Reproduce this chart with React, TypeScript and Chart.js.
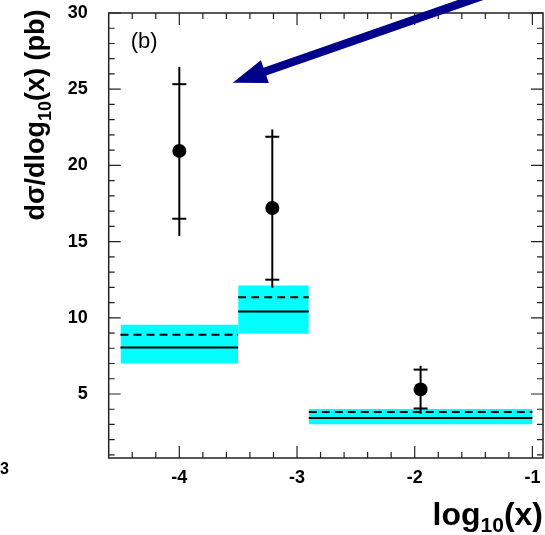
import React, { useEffect, useRef } from "react";
import { Chart, registerables } from "chart.js";

Chart.register(...registerables);

// ---- data ----
const binEdges = [-4.5, -3.5, -2.9, -1.0];
const bandLow = [7.0, 8.95, 3.01];
const bandHigh = [9.55, 12.12, 4.02];
const predSolid = [8.05, 10.42, 3.43];
const predDashed = [8.89, 11.35, 3.82];

const dataX = [-4.0, -3.21, -1.95];
const dataY = [20.95, 17.2, 5.3];
const statLow = [16.5, 12.5, 4.05];
const statHigh = [25.33, 21.88, 6.6];
const totLow = [15.37, 11.95, 3.71];
const totHigh = [26.47, 22.36, 6.85];

const xTickLabels = [-4, -3, -2, -1];
const yTickLabels = [5, 10, 15, 20, 25, 30];
const X_MIN = -4.6;
const X_MAX = -0.91;
const Y_MIN = 0.8;
const Y_MAX = 30;

const arrowTip = { x: -3.546, y: 25.42 };
const arrowTail = { x: -0.555, y: 33.46 };

const CYAN = "#00ffff";
const NAVY = "#00008b";
const FONT = '"Liberation Sans", Arial, Helvetica, sans-serif';

function segments(values: number[]) {
  const pts: { x: number; y: number | null }[] = [];
  values.forEach((v, i) => {
    pts.push({ x: binEdges[i], y: v });
    pts.push({ x: binEdges[i + 1], y: v });
    pts.push({ x: binEdges[i + 1], y: null });
  });
  return pts;
}

const errorBarPlugin = {
  id: "errorBars",
  afterDatasetsDraw(chart: any) {
    const { ctx } = chart;
    const xs = chart.scales.x;
    const ys = chart.scales.y;
    ctx.save();
    ctx.strokeStyle = "#000";
    ctx.lineWidth = 2;
    dataX.forEach((xv, i) => {
      const px = xs.getPixelForValue(xv);
      ctx.beginPath();
      ctx.moveTo(px, ys.getPixelForValue(totLow[i]));
      ctx.lineTo(px, ys.getPixelForValue(totHigh[i]));
      ctx.stroke();
      [statLow[i], statHigh[i]].forEach((v) => {
        const py = ys.getPixelForValue(v);
        ctx.beginPath();
        ctx.moveTo(px - 7, py);
        ctx.lineTo(px + 7, py);
        ctx.stroke();
      });
    });
    ctx.restore();
  },
};

const decorPlugin = {
  id: "decor",
  afterDraw(chart: any) {
    const { ctx, chartArea } = chart;
    const xs = chart.scales.x;
    const ys = chart.scales.y;
    const { left, right, top, bottom } = chartArea;
    ctx.save();

    // frame
    ctx.strokeStyle = "#222";
    ctx.lineWidth = 1.5;
    ctx.strokeRect(left, top, right - left, bottom - top);

    // y ticks (both sides, inward)
    ctx.lineWidth = 1.2;
    for (let v = Math.ceil(Y_MIN); v <= Y_MAX; v += 1) {
      const py = ys.getPixelForValue(v);
      const len = v % 5 === 0 ? 12 : 6;
      ctx.beginPath();
      ctx.moveTo(left, py);
      ctx.lineTo(left + len, py);
      ctx.moveTo(right, py);
      ctx.lineTo(right - len, py);
      ctx.stroke();
    }
    // x ticks (top and bottom, inward)
    for (let k = -44; k <= -5; k += 2) {
      const v = k / 10;
      if (v < X_MIN || v > X_MAX) continue;
      const px = xs.getPixelForValue(v);
      const len = k % 10 === 0 ? 12 : 6;
      ctx.beginPath();
      ctx.moveTo(px, bottom);
      ctx.lineTo(px, bottom - len);
      ctx.moveTo(px, top);
      ctx.lineTo(px, top + len);
      ctx.stroke();
    }

    // arrow
    const tx = xs.getPixelForValue(arrowTip.x);
    const ty = ys.getPixelForValue(arrowTip.y);
    const sx = xs.getPixelForValue(arrowTail.x);
    const sy = ys.getPixelForValue(arrowTail.y);
    const dx = sx - tx;
    const dy = sy - ty;
    const L = Math.hypot(dx, dy);
    const ux = dx / L;
    const uy = dy / L;
    const nx = -uy;
    const ny = ux;
    const headLen = 34;
    const headHalf = 12;
    const shaftHalf = 4.2;
    const bx = tx + ux * headLen;
    const by = ty + uy * headLen;
    ctx.fillStyle = NAVY;
    ctx.beginPath();
    ctx.moveTo(tx, ty);
    ctx.lineTo(bx + nx * headHalf, by + ny * headHalf);
    ctx.lineTo(bx + nx * shaftHalf, by + ny * shaftHalf);
    ctx.lineTo(sx + nx * shaftHalf, sy + ny * shaftHalf);
    ctx.lineTo(sx - nx * shaftHalf, sy - ny * shaftHalf);
    ctx.lineTo(bx - nx * shaftHalf, by - ny * shaftHalf);
    ctx.lineTo(bx - nx * headHalf, by - ny * headHalf);
    ctx.closePath();
    ctx.fill();

    // panel label
    ctx.fillStyle = "#000";
    ctx.font = `22px ${FONT}`;
    ctx.textAlign = "left";
    ctx.textBaseline = "alphabetic";
    ctx.fillText("(b)", left + 22, top + 35);

    // y title (rotated, with subscript)
    const yParts: [string, number, number][] = [
      ["d\u03c3/dlog", 27, 0],
      ["10", 18, 7],
      ["(x) (pb)", 27, 0],
    ];
    const measure = (parts: [string, number, number][]) =>
      parts.reduce((w, [t, s]) => {
        ctx.font = `bold ${s}px ${FONT}`;
        return w + ctx.measureText(t).width;
      }, 0);
    ctx.save();
    ctx.translate(44, 115);
    ctx.rotate(-Math.PI / 2);
    let cx = -measure(yParts) / 2;
    yParts.forEach(([t, s, off]) => {
      ctx.font = `bold ${s}px ${FONT}`;
      ctx.fillText(t, cx, off);
      cx += ctx.measureText(t).width;
    });
    ctx.restore();

    // x title
    const xParts: [string, number, number][] = [
      ["log", 32, 0],
      ["10", 21, 7],
      ["(x)", 32, 0],
    ];
    let xx = right - measure(xParts);
    xParts.forEach(([t, s, off]) => {
      ctx.font = `bold ${s}px ${FONT}`;
      ctx.fillText(t, xx, 525 + off);
      xx += ctx.measureText(t).width;
    });

    // fragments of neighbouring panels
    ctx.font = `bold 16px ${FONT}`;
    ctx.fillText("3", 0, 474);
    ctx.fillText("30", 65, 547);

    ctx.restore();
  },
};

function zeroPadding(s: any) {
  s.paddingTop = 0;
  s.paddingBottom = 0;
  s.paddingLeft = 0;
  s.paddingRight = 0;
}

export default function App() {
  const ref = useRef<HTMLCanvasElement | null>(null);

  useEffect(() => {
    document.body.style.margin = "0";
    document.body.style.overflow = "hidden";
    document.documentElement.style.overflow = "hidden";
    const canvas = ref.current;
    if (!canvas) return;

    const datasets: any[] = [];
    binEdges.slice(0, -1).forEach((lo, i) => {
      const hi = binEdges[i + 1];
      datasets.push({
        data: [
          { x: lo, y: bandHigh[i] },
          { x: hi, y: bandHigh[i] },
        ],
        fill: "+1",
        backgroundColor: CYAN,
        borderWidth: 0,
        pointRadius: 0,
        order: 3,
      });
      datasets.push({
        data: [
          { x: lo, y: bandLow[i] },
          { x: hi, y: bandLow[i] },
        ],
        fill: false,
        borderWidth: 0,
        pointRadius: 0,
        order: 3,
      });
    });
    datasets.push({
      data: segments(predSolid),
      borderColor: "#000",
      borderWidth: 2,
      pointRadius: 0,
      fill: false,
      spanGaps: false,
      order: 2,
    });
    datasets.push({
      data: segments(predDashed),
      borderColor: "#000",
      borderWidth: 2,
      borderDash: [8, 5],
      pointRadius: 0,
      fill: false,
      spanGaps: false,
      order: 2,
    });
    datasets.push({
      data: dataX.map((x, i) => ({ x, y: dataY[i] })),
      showLine: false,
      pointRadius: 7,
      pointBackgroundColor: "#000",
      pointBorderWidth: 0,
      order: 1,
    });

    const chart = new Chart(canvas, {
      type: "line",
      data: { datasets },
      options: {
        animation: false,
        responsive: false,
        maintainAspectRatio: false,
        layout: {
          autoPadding: false,
          padding: { top: 13, right: 2, left: 0, bottom: 0 },
        },
        plugins: {
          legend: { display: false },
          tooltip: { enabled: false },
        },
        scales: {
          x: {
            type: "linear",
            min: X_MIN,
            max: X_MAX,
            grid: { display: false, drawTicks: false },
            border: { display: false },
            afterBuildTicks: (s: any) => {
              s.ticks = xTickLabels.map((v) => ({ value: v }));
            },
            afterFit: (s: any) => {
              s.height = 77;
              zeroPadding(s);
            },
            ticks: {
              color: "#000",
              font: { family: FONT, size: 18, weight: "bold" },
              padding: 9,
              maxRotation: 0,
              callback: (v: any) => String(v),
            },
          },
          y: {
            type: "linear",
            min: Y_MIN,
            max: Y_MAX,
            grid: { display: false, drawTicks: false },
            border: { display: false },
            afterBuildTicks: (s: any) => {
              s.ticks = yTickLabels.map((v) => ({ value: v }));
            },
            afterFit: (s: any) => {
              s.width = 108.7;
              zeroPadding(s);
            },
            ticks: {
              color: "#000",
              font: { family: FONT, size: 18, weight: "bold" },
              padding: 21,
              callback: (v: any) => String(v),
            },
          },
        },
      },
      plugins: [errorBarPlugin, decorPlugin],
    });

    return () => chart.destroy();
  }, []);

  return (
    <div style={{ width: 545, height: 535, background: "#fff" }}>
      <canvas ref={ref} width={545} height={535} style={{ display: "block" }} />
    </div>
  );
}
